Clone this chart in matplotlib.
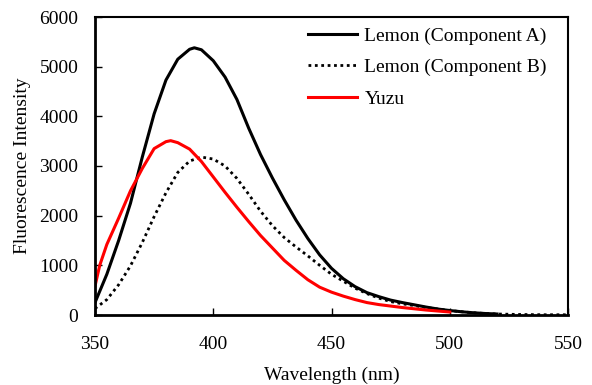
import matplotlib
matplotlib.use("Agg")
import matplotlib.pyplot as plt

plt.rcParams['font.family'] = ['Liberation Serif', 'DejaVu Serif']

wl_a = [350, 355, 360, 365, 370, 375, 380, 385, 390, 392, 395, 400, 405, 410, 415, 420,
        425, 430, 435, 440, 445, 450, 455, 460, 465, 470, 475, 480, 485, 490, 495, 500,
        505, 510, 515, 520]
lemon_a = [250, 820, 1500, 2250, 3180, 4050, 4730, 5150, 5350, 5380, 5340, 5120, 4790,
           4340, 3760, 3230, 2760, 2320, 1910, 1540, 1210, 940, 730, 570, 450, 370, 300,
           250, 205, 160, 120, 90, 65, 45, 30, 20]

wl_b = [350, 355, 360, 365, 370, 375, 380, 385, 390, 395, 400, 405, 410, 415, 420, 425,
        430, 435, 440, 445, 450, 455, 460, 465, 470, 475, 480, 485, 490, 495, 500, 505,
        510, 515, 520, 530, 540, 550]
lemon_b = [130, 310, 610, 990, 1460, 1980, 2460, 2870, 3100, 3180, 3140, 3000, 2750, 2430,
           2090, 1800, 1560, 1370, 1190, 1000, 820, 680, 540, 430, 340, 270, 225, 190, 150,
           120, 90, 65, 45, 30, 20, 10, 5, 5]

wl_y = [350, 352, 355, 360, 365, 370, 375, 380, 382, 385, 390, 395, 400, 405, 410, 415, 420,
        425, 430, 435, 440, 445, 450, 455, 460, 465, 470, 475, 480, 485, 490, 495, 500]
yuzu = [580, 1000, 1420, 1950, 2500, 2950, 3350, 3490, 3510, 3470, 3340, 3090, 2780, 2470,
        2170, 1880, 1600, 1350, 1100, 900, 710, 560, 460, 380, 310, 250, 210, 180, 150, 125,
        100, 80, 60]

labels = ['Lemon (Component A)', 'Lemon (Component B)', 'Yuzu']
x_ticks = [350, 400, 450, 500, 550]
y_ticks = [0, 1000, 2000, 3000, 4000, 5000, 6000]

fig = plt.figure(figsize=(5.92, 3.85), dpi=100)
ax = fig.add_axes([95/592, 1-315/385, (568-95)/592, (315-17)/385])

ax.plot(wl_a, lemon_a, color='black', lw=2.2, label=labels[0])
ax.plot(wl_b, lemon_b, color='black', lw=2.0, linestyle=(0, (1, 1.3)), label=labels[1])
ax.plot(wl_y, yuzu, color='#ff0000', lw=2.2, label=labels[2])

ax.set_xlim(350, 550)
ax.set_ylim(0, 6000)
ax.set_xticks(x_ticks)
ax.set_yticks(y_ticks)
ax.tick_params(axis='both', direction='in', length=5, width=1, labelsize=14, colors='black')
ax.tick_params(axis='x', pad=15)
ax.tick_params(axis='y', pad=12)
for s in ['left', 'bottom']:
    ax.spines[s].set_linewidth(2)
for s in ['top', 'right']:
    ax.spines[s].set_linewidth(1.5)

ax.set_xlabel('Wavelength (nm)', fontsize=14, labelpad=10)
ax.set_ylabel('Fluorescence Intensity', fontsize=14, labelpad=6)

ax.legend(loc='upper left', bbox_to_anchor=(308/592, 1-27/385), bbox_transform=fig.transFigure,
          frameon=False, fontsize=14, handlelength=2.5, handletextpad=0.4,
          labelspacing=0.72, borderaxespad=0, borderpad=0)

fig.savefig('out.png', dpi=100)
